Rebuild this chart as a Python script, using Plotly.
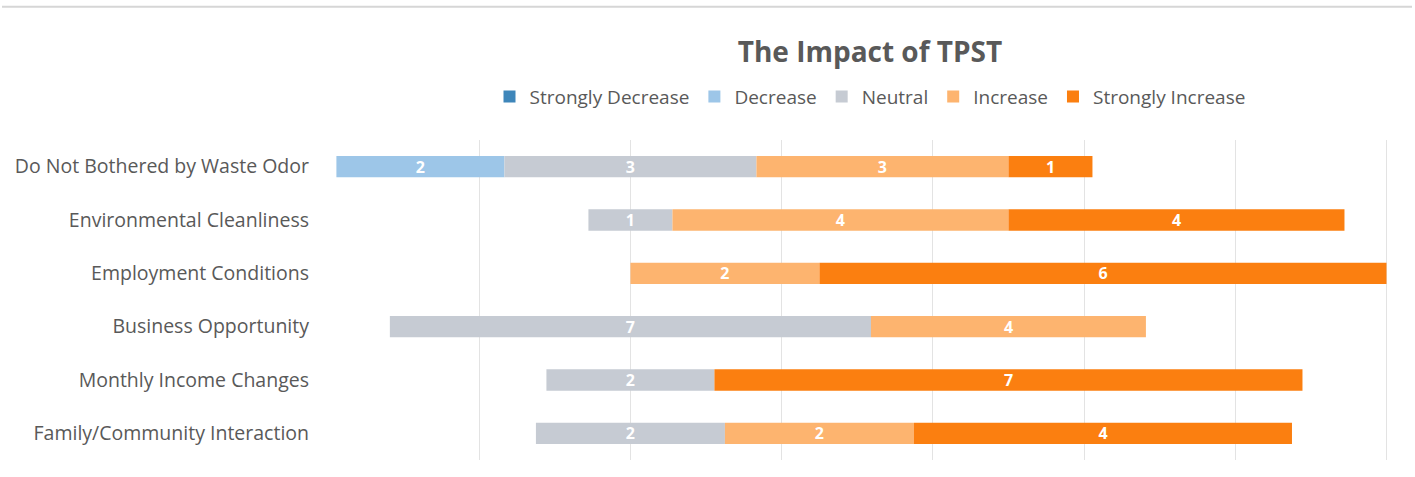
import plotly.graph_objects as go
import numpy as np

categories = [
    "Do Not Bothered by Waste Odor",
    "Environmental Cleanliness",
    "Employment Conditions",
    "Business Opportunity",
    "Monthly Income Changes",
    "Family/Community Interaction",
]
strongly_decrease = [0, 0, 0, 0, 0, 0]
decrease = [2, 0, 0, 0, 0, 0]
neutral = [3, 1, 0, 7, 2, 2]
increase = [3, 4, 2, 4, 0, 2]
strongly_increase = [1, 4, 6, 0, 7, 4]

series_names = ["Strongly Decrease", "Decrease", "Neutral", "Increase", "Strongly Increase"]
series_colors = ["#3E86BA", "#9DC6E8", "#C6CBD3", "#FDB46F", "#FB7F10"]

FONT = "Open Sans"

counts = np.array([strongly_decrease, decrease, neutral, increase, strongly_increase], dtype=float)
totals = counts.sum(axis=0)
pct = counts / totals * 100
start = -(pct[0] + pct[1] + pct[2] / 2)
bases = start + np.vstack([np.zeros(len(categories)), np.cumsum(pct, axis=0)[:-1]])

fig = go.Figure()
for i, name in enumerate(series_names):
    fig.add_trace(go.Bar(
        y=categories,
        x=pct[i],
        base=bases[i],
        orientation="h",
        name=name,
        marker=dict(color=series_colors[i], line=dict(width=0)),
        text=[str(int(c)) if c > 0 else "" for c in counts[i]],
        textposition="inside",
        insidetextanchor="middle",
        textangle=0,
        constraintext="none",
        texttemplate="<b>%{text}</b>",
        textfont=dict(color="white", size=16, family=FONT),
        hoverinfo="skip",
    ))

fig.update_layout(
    width=1415, height=477,
    barmode="overlay",
    bargap=0.6,
    paper_bgcolor="white",
    plot_bgcolor="white",
    margin=dict(l=328, r=27, t=140, b=17),
    font=dict(family=FONT, color="#595959"),
    title=dict(
        text="<b>The Impact of TPST</b>",
        x=870 / 1415, xanchor="center", xref="container",
        y=1 - 52 / 477, yanchor="middle", yref="container",
        font=dict(size=28, color="#595959", family=FONT),
    ),
    legend=dict(
        orientation="h",
        x=(870 - 328) / 1060, xanchor="center",
        y=1 + (140 - 97) / 318, yanchor="middle",
        font=dict(size=19, color="#595959", family=FONT),
        traceorder="normal",
        itemwidth=30,
    ),
    showlegend=True,
)
fig.update_xaxes(
    range=[-40, 100.2], dtick=20, tick0=0,
    showticklabels=False, showgrid=True, gridcolor="#E3E3E3", gridwidth=1,
    zeroline=True, zerolinecolor="#E3E3E3", zerolinewidth=1, showline=False,
    fixedrange=True,
)
fig.update_yaxes(
    categoryorder="array", categoryarray=categories[::-1],
    tickfont=dict(size=19.5, color="#595959", family=FONT),
    ticks="", ticklabelstandoff=18, showgrid=False, showline=False,
)
fig.add_shape(
    type="line", xref="paper", yref="paper",
    x0=(2 - 328) / 1060, x1=(1412 - 328) / 1060,
    y0=(458 - 7.5) / 318, y1=(458 - 7.5) / 318,
    line=dict(color="#D6D6D6", width=2), layer="below",
)

fig.write_html("out.html")
